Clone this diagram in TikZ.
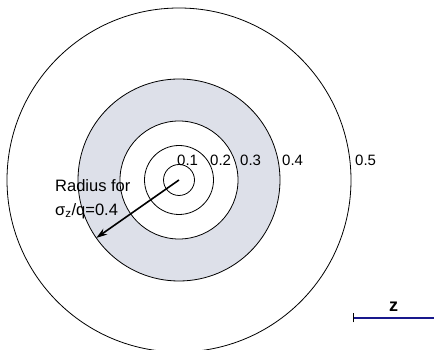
\documentclass[tikz,border=0pt]{standalone}
\usepackage{fontspec}
\setmainfont{Liberation Sans}
\usepackage{tikz}
\usetikzlibrary{positioning,arrows.meta}
\usepackage{xcolor}
\definecolor{ringgray}{RGB}{221,224,233}
\definecolor{scalenavy}{RGB}{24,24,140}

\begin{document}
\begin{tikzpicture}[x=1pt,y=1pt,>={Stealth[length=11pt,width=7pt]},
  ring/.style={circle,draw,line width=0.8pt,inner sep=0pt,outer sep=0pt,fill=white},
  lvl/.style={anchor=west,inner sep=1pt,font=\fontsize{15}{18}\selectfont}]
\useasboundingbox (0,0) rectangle (434,350);
\clip (0,0) rectangle (434,350);
\coordinate (ctr) at (179,170);
\node[ring,minimum size=344pt] (c5) at (ctr) {};
\node[ring,minimum size=202pt,fill=ringgray] (c4) at (ctr) {};
\node[ring,minimum size=118pt] (c3) at (ctr) {};
\node[ring,minimum size=69pt] (c2) at (ctr) {};
\node[ring,minimum size=31pt] (c1) at (ctr) {};
\node[lvl] (l1) at (176,190) {0.1};
\node[lvl] (l2) at (209,190) {0.2};
\node[lvl] (l3) at (239,190) {0.3};
\node[lvl] (l4) at (281,190) {0.4};
\node[lvl] (l5) at (354,190) {0.5};
\node[align=left,anchor=west,inner sep=0pt,font=\fontsize{16.5}{24}\selectfont] (note) at (55,151) {Radius for\\σ\textsubscript{z}/q=0.4};
\draw[->,line width=1.6pt] (ctr) -- (c4.215);
\coordinate (zl) at (353,32);
\coordinate (zr) at (434,32);
\draw[scalenavy,line width=2.6pt] (zl) -- (zr) node[midway,above=2pt,black,font=\bfseries\fontsize{18}{20}\selectfont] (zlab) {z};
\draw[line width=1pt] (zl) ++(0,-4.5) -- ++(0,9);
\end{tikzpicture}
\end{document}
